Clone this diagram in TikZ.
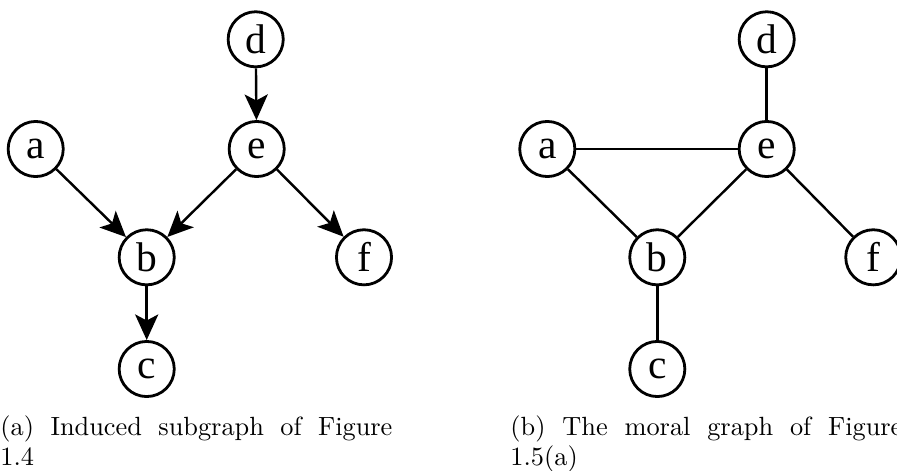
\documentclass[tikz,border=0pt]{standalone}
\usepackage{fontspec}
\newfontfamily\nodefont{Liberation Serif}
\usetikzlibrary{arrows.meta}
\newcommand\capfont{\fontsize{10.8}{12.3}\selectfont\hyphenpenalty=10000\relax}
\begin{document}
\begin{tikzpicture}[x=0.41pt,y=-0.41pt,
  vtx/.style={circle,draw,line width=1.15pt,minimum size=22.6pt,inner sep=0pt,font=\nodefont\fontsize{17}{17}\selectfont},
  dedge/.style={line width=1pt,-{Stealth[length=10.5pt,width=9.5pt,inset=2.5pt]}},
  uedge/.style={line width=1pt},
  captext/.style={anchor=base west,inner sep=0pt}]
\useasboundingbox (0,0) rectangle (897,471);
% left graph
\node[vtx] (d1) at (255.7,39.3) {d};
\node[vtx] (e1) at (256.7,149) {e};
\node[vtx] (a1) at (35.7,149) {a};
\node[vtx] (b1) at (146.7,257.3) {b};
\node[vtx] (f1) at (364,257.3) {f};
\node[vtx] (c1) at (146.7,369) {c};
\draw[dedge] (d1) -- (e1);
\draw[dedge] (a1) -- (b1);
\draw[dedge] (e1) -- (b1);
\draw[dedge] (e1) -- (f1);
\draw[dedge] (b1) -- (c1);
% right graph
\node[vtx] (d2) at (766.7,39.3) {d};
\node[vtx] (e2) at (766.7,149) {e};
\node[vtx] (a2) at (547.3,149) {a};
\node[vtx] (b2) at (657.3,257.3) {b};
\node[vtx] (f2) at (873.3,257.3) {f};
\node[vtx] (c2) at (657.3,369) {c};
\draw[uedge] (d2) -- (e2);
\draw[uedge] (a2) -- (e2);
\draw[uedge] (a2) -- (b2);
\draw[uedge] (e2) -- (b2);
\draw[uedge] (e2) -- (f2);
\draw[uedge] (b2) -- (c2);
% captions
\node[captext] (capa) at (0,435) {\parbox[t]{160.7pt}{\capfont(a) Induced subgraph of Figure\linebreak 1.4}};
\node[captext] (capb) at (510,435) {\parbox[t]{160.7pt}{\capfont(b) The moral graph of Figure\linebreak 1.5(a)}};
\end{tikzpicture}
\end{document}
